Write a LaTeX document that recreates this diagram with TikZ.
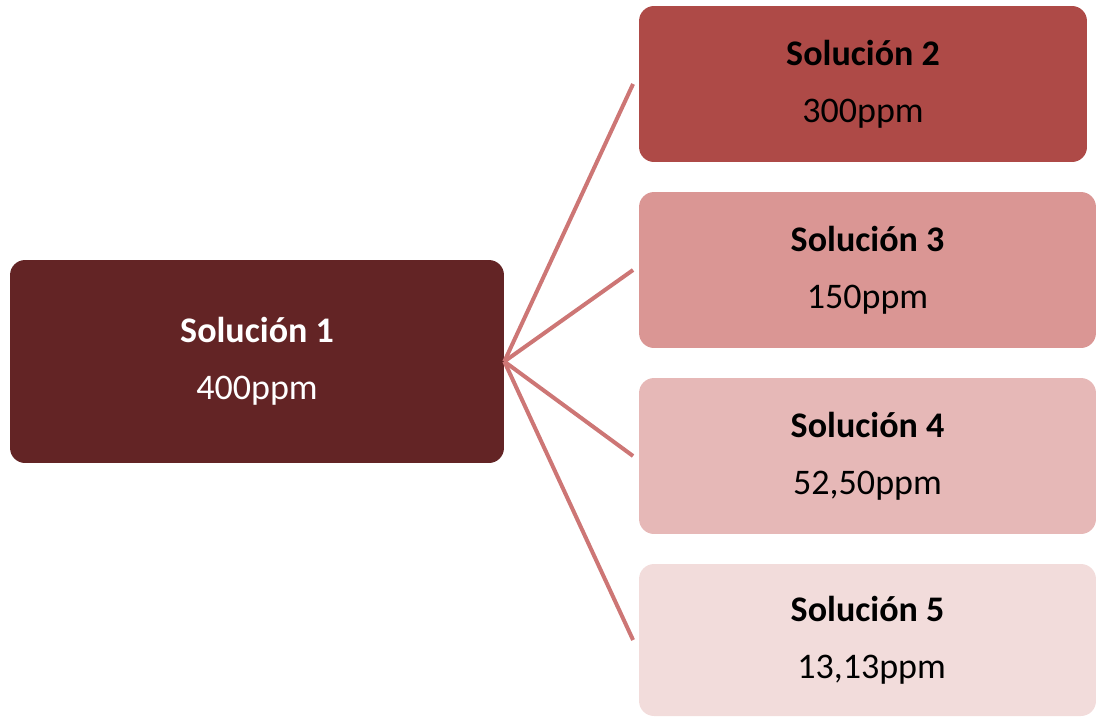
\documentclass[tikz,border=0pt]{standalone}
\usepackage{fontspec}
\setmainfont{Carlito}
\usetikzlibrary{arrows.meta}
\definecolor{solA}{RGB}{99,36,37}
\definecolor{solB}{RGB}{174,74,71}
\definecolor{solC}{RGB}{218,150,148}
\definecolor{solD}{RGB}{230,184,183}
\definecolor{solE}{RGB}{242,220,219}
\definecolor{linkcol}{RGB}{205,118,117}

\begin{document}
\begin{tikzpicture}[x=0.02cm,y=-0.02cm,
	sol/.style = {rectangle, rounded corners=0.3cm, inner sep=0pt, align=center,
		font=\fontsize{20.5}{32.4}\selectfont},
	link/.style = {draw=linkcol, line width=0.08cm}]
					\clip (0,0) rectangle (1097,717);
					\begin{scope}[every node/.style={sol}]
						\node[fill=solA, text=white, minimum width=9.88cm, minimum height=4.06cm] (s1) at (257,361.5) {\textbf{Solución 1}\\400ppm};
						\node[fill=solB, minimum width=8.96cm, minimum height=3.12cm, outer sep=0.12cm] (s2) at (863,84) {\textbf{Solución 2}\\300ppm};
						\node[fill=solC, minimum width=9.14cm, minimum height=3.12cm, outer sep=0.12cm] (s3) at (867.5,270) {\textbf{Solución 3}\\150ppm};
						\node[fill=solD, minimum width=9.14cm, minimum height=3.12cm, outer sep=0.12cm] (s4) at (867.5,456) {\textbf{Solución 4}\\52,50ppm};
						\node[fill=solE, minimum width=9.14cm, minimum height=3.04cm, outer sep=0.12cm] (s5) at (867.5,640) {\textbf{Solución 5}\\\ 13,13ppm};
					\end{scope}
					\draw [link] (s1.east) -- (s2.west);
					\draw [link] (s1.east) -- (s3.west);
					\draw [link] (s1.east) -- (s4.west);
					\draw [link] (s1.east) -- (s5.west);
				\end{tikzpicture}
\end{document}
